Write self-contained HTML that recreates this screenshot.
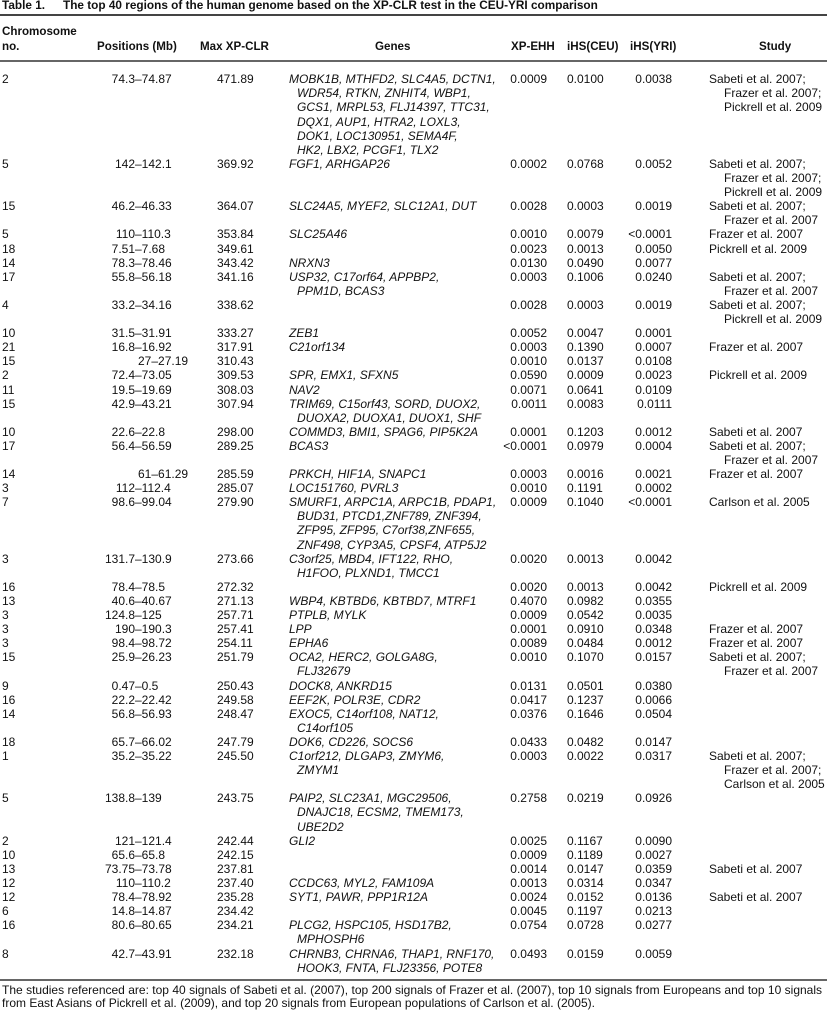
<!DOCTYPE html>
<html><head><meta charset="utf-8">
<style>
body{margin:0;background:#fff}
#p{position:relative;width:827px;height:1020px;overflow:hidden;font-family:"Liberation Sans",Arial,sans-serif;font-size:12px;line-height:14.1px;color:#111;background:#fff}
.a{position:absolute;white-space:nowrap}
.r{position:absolute;left:0;width:827px;height:0}
.r>div{position:absolute;top:0;white-space:nowrap}
.c{left:2px}
.pl{right:692px;text-align:right}
.pr{left:135px}
.px{left:138px}
.m{left:217px}
.g{left:289px;font-style:italic;padding-left:8px;text-indent:-8px}
.e{right:280px;text-align:right}
.u{left:567px}
.y{right:155px;text-align:right}
.s{left:709px;padding-left:15px;text-indent:-15px}
.h{position:absolute;white-space:nowrap;font-weight:bold;font-size:11.6px}
.rule{position:absolute;left:0;width:827px;height:2px;background:#666}
</style></head><body><div id="p">
<div class="a" style="left:2px;top:-2px;font-weight:bold;font-size:11.8px">Table 1.</div>
<div class="a" style="left:63px;top:-2px;font-weight:bold;font-size:11.8px">The top 40 regions of the human genome based on the XP-CLR test in the CEU-YRI comparison</div>
<div class="rule" style="top:14px;background:#444"></div>

<div class="h" style="left:2px;top:25.3px">Chromosome</div>
<div class="h" style="left:2px;top:40.3px">no.</div>
<div class="h" style="left:97px;top:40.3px">Positions (Mb)</div>
<div class="h" style="left:200px;top:40.3px">Max XP-CLR</div>
<div class="h" style="left:375px;top:40.3px">Genes</div>
<div class="h" style="left:511px;top:40.3px">XP-EHH</div>
<div class="h" style="left:567px;top:40.3px">iHS(CEU)</div>
<div class="h" style="left:630px;top:40.3px">iHS(YRI)</div>
<div class="h" style="left:759px;top:40.3px">Study</div>
<div class="rule" style="top:60px"></div>

<div class="r" style="top:72.3px"><div class="c">2</div><div class="pl">74.3</div><div class="pr">–74.87</div><div class="m">471.89</div><div class="g">MOBK1B, MTHFD2, SLC4A5, DCTN1,<br>WDR54, RTKN, ZNHIT4, WBP1,<br>GCS1, MRPL53, FLJ14397, TTC31,<br>DQX1, AUP1, HTRA2, LOXL3,<br>DOK1, LOC130951, SEMA4F,<br>HK2, LBX2, PCGF1, TLX2</div><div class="e">0.0009</div><div class="u">0.0100</div><div class="y">0.0038</div><div class="s">Sabeti et al. 2007;<br>Frazer et al. 2007;<br>Pickrell et al. 2009</div></div>
<div class="r" style="top:156.9px"><div class="c">5</div><div class="pl">142</div><div class="pr">–142.1</div><div class="m">369.92</div><div class="g">FGF1, ARHGAP26</div><div class="e">0.0002</div><div class="u">0.0768</div><div class="y">0.0052</div><div class="s">Sabeti et al. 2007;<br>Frazer et al. 2007;<br>Pickrell et al. 2009</div></div>
<div class="r" style="top:199.2px"><div class="c">15</div><div class="pl">46.2</div><div class="pr">–46.33</div><div class="m">364.07</div><div class="g">SLC24A5, MYEF2, SLC12A1, DUT</div><div class="e">0.0028</div><div class="u">0.0003</div><div class="y">0.0019</div><div class="s">Sabeti et al. 2007;<br>Frazer et al. 2007</div></div>
<div class="r" style="top:227.4px"><div class="c">5</div><div class="pl">110</div><div class="pr">–110.3</div><div class="m">353.84</div><div class="g">SLC25A46</div><div class="e">0.0010</div><div class="u">0.0079</div><div class="y">&lt;0.0001</div><div class="s">Frazer et al. 2007</div></div>
<div class="r" style="top:241.5px"><div class="c">18</div><div class="pl">7.51</div><div class="pr">–7.68</div><div class="m">349.61</div><div class="e">0.0023</div><div class="u">0.0013</div><div class="y">0.0050</div><div class="s">Pickrell et al. 2009</div></div>
<div class="r" style="top:255.6px"><div class="c">14</div><div class="pl">78.3</div><div class="pr">–78.46</div><div class="m">343.42</div><div class="g">NRXN3</div><div class="e">0.0130</div><div class="u">0.0490</div><div class="y">0.0077</div></div>
<div class="r" style="top:269.7px"><div class="c">17</div><div class="pl">55.8</div><div class="pr">–56.18</div><div class="m">341.16</div><div class="g">USP32, C17orf64, APPBP2,<br>PPM1D, BCAS3</div><div class="e">0.0003</div><div class="u">0.1006</div><div class="y">0.0240</div><div class="s">Sabeti et al. 2007;<br>Frazer et al. 2007</div></div>
<div class="r" style="top:297.9px"><div class="c">4</div><div class="pl">33.2</div><div class="pr">–34.16</div><div class="m">338.62</div><div class="e">0.0028</div><div class="u">0.0003</div><div class="y">0.0019</div><div class="s">Sabeti et al. 2007;<br>Pickrell et al. 2009</div></div>
<div class="r" style="top:326.1px"><div class="c">10</div><div class="pl">31.5</div><div class="pr">–31.91</div><div class="m">333.27</div><div class="g">ZEB1</div><div class="e">0.0052</div><div class="u">0.0047</div><div class="y">0.0001</div></div>
<div class="r" style="top:340.2px"><div class="c">21</div><div class="pl">16.8</div><div class="pr">–16.92</div><div class="m">317.91</div><div class="g">C21orf134</div><div class="e">0.0003</div><div class="u">0.1390</div><div class="y">0.0007</div><div class="s">Frazer et al. 2007</div></div>
<div class="r" style="top:354.3px"><div class="c">15</div><div class="px">27–27.19</div><div class="m">310.43</div><div class="e">0.0010</div><div class="u">0.0137</div><div class="y">0.0108</div></div>
<div class="r" style="top:368.4px"><div class="c">2</div><div class="pl">72.4</div><div class="pr">–73.05</div><div class="m">309.53</div><div class="g">SPR, EMX1, SFXN5</div><div class="e">0.0590</div><div class="u">0.0009</div><div class="y">0.0023</div><div class="s">Pickrell et al. 2009</div></div>
<div class="r" style="top:382.5px"><div class="c">11</div><div class="pl">19.5</div><div class="pr">–19.69</div><div class="m">308.03</div><div class="g">NAV2</div><div class="e">0.0071</div><div class="u">0.0641</div><div class="y">0.0109</div></div>
<div class="r" style="top:396.6px"><div class="c">15</div><div class="pl">42.9</div><div class="pr">–43.21</div><div class="m">307.94</div><div class="g">TRIM69, C15orf43, SORD, DUOX2,<br>DUOXA2, DUOXA1, DUOX1, SHF</div><div class="e">0.0011</div><div class="u">0.0083</div><div class="y">0.0111</div></div>
<div class="r" style="top:424.8px"><div class="c">10</div><div class="pl">22.6</div><div class="pr">–22.8</div><div class="m">298.00</div><div class="g">COMMD3, BMI1, SPAG6, PIP5K2A</div><div class="e">0.0001</div><div class="u">0.1203</div><div class="y">0.0012</div><div class="s">Sabeti et al. 2007</div></div>
<div class="r" style="top:438.9px"><div class="c">17</div><div class="pl">56.4</div><div class="pr">–56.59</div><div class="m">289.25</div><div class="g">BCAS3</div><div class="e">&lt;0.0001</div><div class="u">0.0979</div><div class="y">0.0004</div><div class="s">Sabeti et al. 2007;<br>Frazer et al. 2007</div></div>
<div class="r" style="top:467.1px"><div class="c">14</div><div class="px">61–61.29</div><div class="m">285.59</div><div class="g">PRKCH, HIF1A, SNAPC1</div><div class="e">0.0003</div><div class="u">0.0016</div><div class="y">0.0021</div><div class="s">Frazer et al. 2007</div></div>
<div class="r" style="top:481.2px"><div class="c">3</div><div class="pl">112</div><div class="pr">–112.4</div><div class="m">285.07</div><div class="g">LOC151760, PVRL3</div><div class="e">0.0010</div><div class="u">0.1191</div><div class="y">0.0002</div></div>
<div class="r" style="top:495.3px"><div class="c">7</div><div class="pl">98.6</div><div class="pr">–99.04</div><div class="m">279.90</div><div class="g">SMURF1, ARPC1A, ARPC1B, PDAP1,<br>BUD31, PTCD1,ZNF789, ZNF394,<br>ZFP95, ZFP95, C7orf38,ZNF655,<br>ZNF498, CYP3A5, CPSF4, ATP5J2</div><div class="e">0.0009</div><div class="u">0.1040</div><div class="y">&lt;0.0001</div><div class="s">Carlson et al. 2005</div></div>
<div class="r" style="top:551.7px"><div class="c">3</div><div class="pl">131.7</div><div class="pr">–130.9</div><div class="m">273.66</div><div class="g">C3orf25, MBD4, IFT122, RHO,<br>H1FOO, PLXND1, TMCC1</div><div class="e">0.0020</div><div class="u">0.0013</div><div class="y">0.0042</div></div>
<div class="r" style="top:579.9px"><div class="c">16</div><div class="pl">78.4</div><div class="pr">–78.5</div><div class="m">272.32</div><div class="e">0.0020</div><div class="u">0.0013</div><div class="y">0.0042</div><div class="s">Pickrell et al. 2009</div></div>
<div class="r" style="top:594.0px"><div class="c">13</div><div class="pl">40.6</div><div class="pr">–40.67</div><div class="m">271.13</div><div class="g">WBP4, KBTBD6, KBTBD7, MTRF1</div><div class="e">0.4070</div><div class="u">0.0982</div><div class="y">0.0355</div></div>
<div class="r" style="top:608.1px"><div class="c">3</div><div class="pl">124.8</div><div class="pr">–125</div><div class="m">257.71</div><div class="g">PTPLB, MYLK</div><div class="e">0.0009</div><div class="u">0.0542</div><div class="y">0.0035</div></div>
<div class="r" style="top:622.2px"><div class="c">3</div><div class="pl">190</div><div class="pr">–190.3</div><div class="m">257.41</div><div class="g">LPP</div><div class="e">0.0001</div><div class="u">0.0910</div><div class="y">0.0348</div><div class="s">Frazer et al. 2007</div></div>
<div class="r" style="top:636.3px"><div class="c">3</div><div class="pl">98.4</div><div class="pr">–98.72</div><div class="m">254.11</div><div class="g">EPHA6</div><div class="e">0.0089</div><div class="u">0.0484</div><div class="y">0.0012</div><div class="s">Frazer et al. 2007</div></div>
<div class="r" style="top:650.4px"><div class="c">15</div><div class="pl">25.9</div><div class="pr">–26.23</div><div class="m">251.79</div><div class="g">OCA2, HERC2, GOLGA8G,<br>FLJ32679</div><div class="e">0.0010</div><div class="u">0.1070</div><div class="y">0.0157</div><div class="s">Sabeti et al. 2007;<br>Frazer et al. 2007</div></div>
<div class="r" style="top:678.6px"><div class="c">9</div><div class="pl">0.47</div><div class="pr">–0.5</div><div class="m">250.43</div><div class="g">DOCK8, ANKRD15</div><div class="e">0.0131</div><div class="u">0.0501</div><div class="y">0.0380</div></div>
<div class="r" style="top:692.7px"><div class="c">16</div><div class="pl">22.2</div><div class="pr">–22.42</div><div class="m">249.58</div><div class="g">EEF2K, POLR3E, CDR2</div><div class="e">0.0417</div><div class="u">0.1237</div><div class="y">0.0066</div></div>
<div class="r" style="top:706.8px"><div class="c">14</div><div class="pl">56.8</div><div class="pr">–56.93</div><div class="m">248.47</div><div class="g">EXOC5, C14orf108, NAT12,<br>C14orf105</div><div class="e">0.0376</div><div class="u">0.1646</div><div class="y">0.0504</div></div>
<div class="r" style="top:735.0px"><div class="c">18</div><div class="pl">65.7</div><div class="pr">–66.02</div><div class="m">247.79</div><div class="g">DOK6, CD226, SOCS6</div><div class="e">0.0433</div><div class="u">0.0482</div><div class="y">0.0147</div></div>
<div class="r" style="top:749.1px"><div class="c">1</div><div class="pl">35.2</div><div class="pr">–35.22</div><div class="m">245.50</div><div class="g">C1orf212, DLGAP3, ZMYM6,<br>ZMYM1</div><div class="e">0.0003</div><div class="u">0.0022</div><div class="y">0.0317</div><div class="s">Sabeti et al. 2007;<br>Frazer et al. 2007;<br>Carlson et al. 2005</div></div>
<div class="r" style="top:791.4px"><div class="c">5</div><div class="pl">138.8</div><div class="pr">–139</div><div class="m">243.75</div><div class="g">PAIP2, SLC23A1, MGC29506,<br>DNAJC18, ECSM2, TMEM173,<br>UBE2D2</div><div class="e">0.2758</div><div class="u">0.0219</div><div class="y">0.0926</div></div>
<div class="r" style="top:833.7px"><div class="c">2</div><div class="pl">121</div><div class="pr">–121.4</div><div class="m">242.44</div><div class="g">GLI2</div><div class="e">0.0025</div><div class="u">0.1167</div><div class="y">0.0090</div></div>
<div class="r" style="top:847.8px"><div class="c">10</div><div class="pl">65.6</div><div class="pr">–65.8</div><div class="m">242.15</div><div class="e">0.0009</div><div class="u">0.1189</div><div class="y">0.0027</div></div>
<div class="r" style="top:861.9px"><div class="c">13</div><div class="pl">73.75</div><div class="pr">–73.78</div><div class="m">237.81</div><div class="e">0.0014</div><div class="u">0.0147</div><div class="y">0.0359</div><div class="s">Sabeti et al. 2007</div></div>
<div class="r" style="top:876.0px"><div class="c">12</div><div class="pl">110</div><div class="pr">–110.2</div><div class="m">237.40</div><div class="g">CCDC63, MYL2, FAM109A</div><div class="e">0.0013</div><div class="u">0.0314</div><div class="y">0.0347</div></div>
<div class="r" style="top:890.1px"><div class="c">12</div><div class="pl">78.4</div><div class="pr">–78.92</div><div class="m">235.28</div><div class="g">SYT1, PAWR, PPP1R12A</div><div class="e">0.0024</div><div class="u">0.0152</div><div class="y">0.0136</div><div class="s">Sabeti et al. 2007</div></div>
<div class="r" style="top:904.2px"><div class="c">6</div><div class="pl">14.8</div><div class="pr">–14.87</div><div class="m">234.42</div><div class="e">0.0045</div><div class="u">0.1197</div><div class="y">0.0213</div></div>
<div class="r" style="top:918.3px"><div class="c">16</div><div class="pl">80.6</div><div class="pr">–80.65</div><div class="m">234.21</div><div class="g">PLCG2, HSPC105, HSD17B2,<br>MPHOSPH6</div><div class="e">0.0754</div><div class="u">0.0728</div><div class="y">0.0277</div></div>
<div class="r" style="top:946.5px"><div class="c">8</div><div class="pl">42.7</div><div class="pr">–43.91</div><div class="m">232.18</div><div class="g">CHRNB3, CHRNA6, THAP1, RNF170,<br>HOOK3, FNTA, FLJ23356, POTE8</div><div class="e">0.0493</div><div class="u">0.0159</div><div class="y">0.0059</div></div>

<div class="rule" style="top:979px"></div>
<div class="a" style="left:2px;top:983.5px;width:820px;text-align:justify;text-align-last:justify;line-height:13px">The studies referenced are: top 40 signals of Sabeti et al. (2007), top 200 signals of Frazer et al. (2007), top 10 signals from Europeans and top 10 signals</div>
<div class="a" style="left:2px;top:996.5px;line-height:13px">from East Asians of Pickrell et al. (2009), and top 20 signals from European populations of Carlson et al. (2005).</div>
</div></body></html>
